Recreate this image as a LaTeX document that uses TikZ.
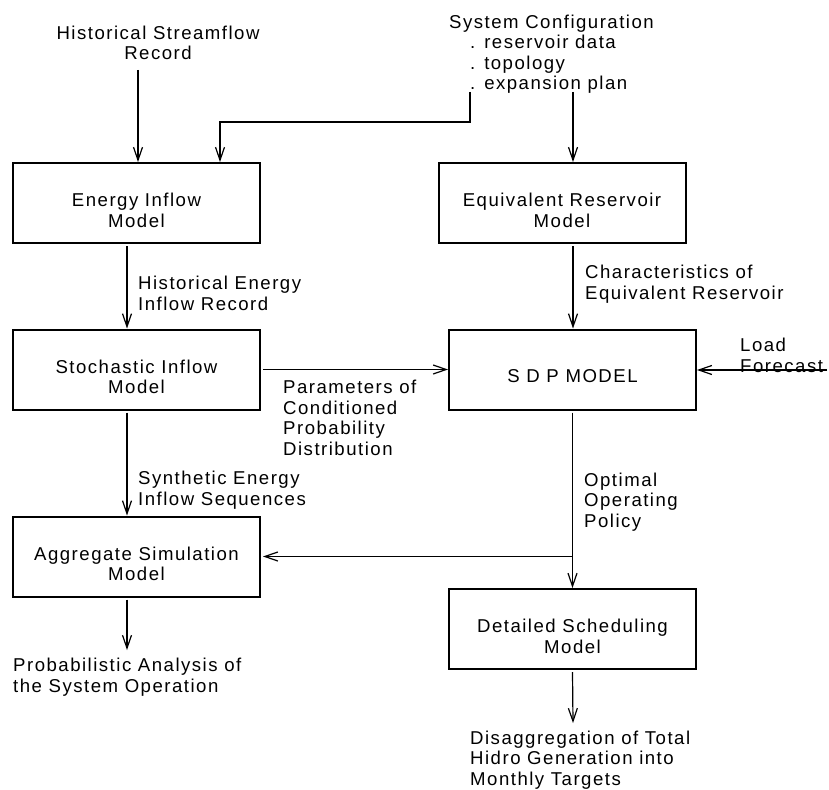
\documentclass[tikz,border=0pt]{standalone}
\usepackage{fontspec}
\setmainfont{Liberation Sans}[LetterSpace=8]
\usetikzlibrary{arrows.meta}
\begin{document}
\begin{tikzpicture}[x=1pt,y=-1pt,
  txt/.style={font=\fontsize{18.6}{20.5}\selectfont, inner sep=0pt},
  lbl/.style={txt, align=left, anchor=base west},
  modelbox/.style={txt, draw, line width=2pt, minimum width=247pt, minimum height=80pt,
    align=center, text height=48pt, text depth=0pt},
  onelinebox/.style={modelbox, text height=25pt},
  conn/.style={line width=1.2pt, -{Straight Barb[length=13pt,width=9pt,line width=1.2pt]}}]
\useasboundingbox (0,0) rectangle (829,789);

% model blocks
\node[modelbox] (eim) at (136.5,203) {Energy Inflow\\Model};
\node[modelbox] (erm) at (562,203) {Equivalent Reservoir\\Model};
\node[modelbox] (sim) at (136.5,369.5) {Stochastic Inflow\\Model};
\node[onelinebox] (sdp) at (572.5,369.5) {S D P MODEL};
\node[modelbox] (asm) at (136.5,556.5) {Aggregate Simulation\\Model};
\node[modelbox] (dsm) at (572.5,629) {Detailed Scheduling\\Model};

% inputs and outputs (anchored on the baseline of their last line)
\node[txt, align=center, anchor=base] (hist) at (158,60) {Historical Streamflow\\Record};
\node[lbl] (cfg) at (449,90) {System Configuration\\\hspace*{21pt}. reservoir data\\\hspace*{21pt}. topology\\\hspace*{21pt}. expansion plan};
\node[lbl] (load) at (740,372) {Load\\Forecast};
\node[lbl] (prob) at (13,692) {Probabilistic Analysis of\\the System Operation};
\node[lbl] (disagg) at (470,785) {Disaggregation of Total\\Hidro Generation into\\Monthly Targets};

% connector labels
\node[lbl] (heir) at (138,310) {Historical Energy\\Inflow Record};
\node[lbl] (cer) at (585,299) {Characteristics of\\Equivalent Reservoir};
\node[lbl] (pcpd) at (283,455) {Parameters of\\Conditioned\\Probability\\Distribution};
\node[lbl] (seis) at (138,505) {Synthetic Energy\\Inflow Sequences};
\node[lbl] (oop) at (584,527) {Optimal\\Operating\\Policy};

% connector end points
\coordinate (lx) at (127,0);
\coordinate (histend) at (138,70);
\coordinate (cfgA) at (470,92);
\coordinate (cfgB) at (220,122);
\coordinate (cfgC) at (573,92);
\coordinate (loadend) at (827,370);
\coordinate (probend) at (127,650);
\coordinate (disend) at (573,723);

% connectors
\draw[conn] (histend) -- (histend |- eim.north);
\draw[conn] (cfgA) |- (cfgB) -- (cfgB |- eim.north);
\draw[conn] (cfgC) -- (cfgC |- erm.north);
\draw[conn] ([yshift=-2pt]eim.south -| lx) -- (sim.north -| lx);
\draw[conn] ([yshift=-2pt]erm.south -| cfgC) -- (sdp.north -| cfgC);
\draw[conn] ([xshift=2pt]sim.east) -- (sdp.west);
\draw[conn] (loadend) -- (loadend -| sdp.east);
\draw[conn] ([yshift=-2pt]sim.south -| lx) -- (asm.north -| lx);
\draw[conn] ([yshift=-2pt]sdp.south) -- (dsm.north);
\draw[conn] (sdp.south |- asm.east) -- ([xshift=2pt]asm.east);
\draw[conn] ([yshift=-2pt]asm.south -| lx) -- (probend);
\draw[conn] ([yshift=-2pt]dsm.south) -- (disend);
\end{tikzpicture}
\end{document}
